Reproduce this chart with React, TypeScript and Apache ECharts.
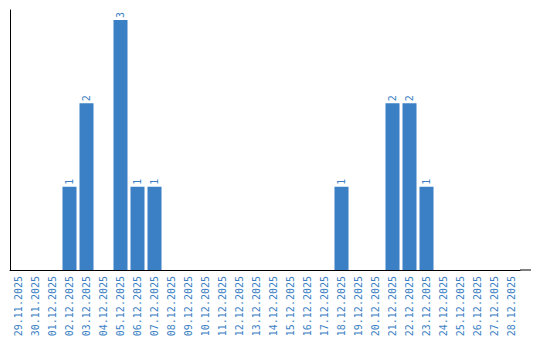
import React, { useEffect, useRef } from "react";
import * as echarts from "echarts";

const categories = [
  "29.11.2025", "30.11.2025", "01.12.2025", "02.12.2025", "03.12.2025",
  "04.12.2025", "05.12.2025", "06.12.2025", "07.12.2025", "08.12.2025",
  "09.12.2025", "10.12.2025", "11.12.2025", "12.12.2025", "13.12.2025",
  "14.12.2025", "15.12.2025", "16.12.2025", "17.12.2025", "18.12.2025",
  "19.12.2025", "20.12.2025", "21.12.2025", "22.12.2025", "23.12.2025",
  "24.12.2025", "25.12.2025", "26.12.2025", "27.12.2025", "28.12.2025",
];

const counts = [
  0, 0, 0, 1, 2, 0, 3, 1, 1, 0,
  0, 0, 0, 0, 0, 0, 0, 0, 0, 1,
  0, 0, 2, 2, 1, 0, 0, 0, 0, 0,
];

const BLUE = "#3b7fc4";
const FONT = "DejaVu Sans Mono";

export default function App() {
  const ref = useRef<HTMLDivElement>(null);
  useEffect(() => {
    if (!ref.current) return;
    const chart = echarts.init(ref.current, undefined, { renderer: "svg" });
    chart.setOption({
      animation: false,
      grid: { left: 10, top: 10, width: 510, bottom: 70, containLabel: false },
      xAxis: {
        type: "category",
        data: categories,
        axisLine: { lineStyle: { color: "#000", width: 1 } },
        axisTick: { show: false },
        axisLabel: {
          rotate: 90,
          interval: 0,
          margin: 6,
          color: BLUE,
          fontFamily: FONT,
          fontSize: 10,
        },
      },
      yAxis: {
        type: "value",
        min: 0,
        max: 3.12,
        axisLine: { show: true, lineStyle: { color: "#000", width: 1 } },
        axisTick: { show: false },
        axisLabel: { show: false },
        splitLine: { show: false },
      },
      graphic: [
        {
          type: "line",
          shape: { x1: 520, y1: 270, x2: 531, y2: 270 },
          style: { stroke: "#000", lineWidth: 1 },
        },
      ],
      series: [
        {
          type: "bar",
          data: counts,
          barWidth: 14,
          itemStyle: { color: BLUE },
          label: {
            show: true,
            position: "top",
            rotate: 90,
            align: "left",
            verticalAlign: "middle",
            distance: 2,
            color: BLUE,
            fontFamily: FONT,
            fontSize: 10,
            formatter: (p: any) => (p.value ? String(p.value) : ""),
          },
        },
      ],
    });
    return () => chart.dispose();
  }, []);
  return (
    <div
      ref={ref}
      style={{ position: "fixed", left: 0, top: 0, width: 540, height: 340, background: "#fff" }}
    />
  );
}
